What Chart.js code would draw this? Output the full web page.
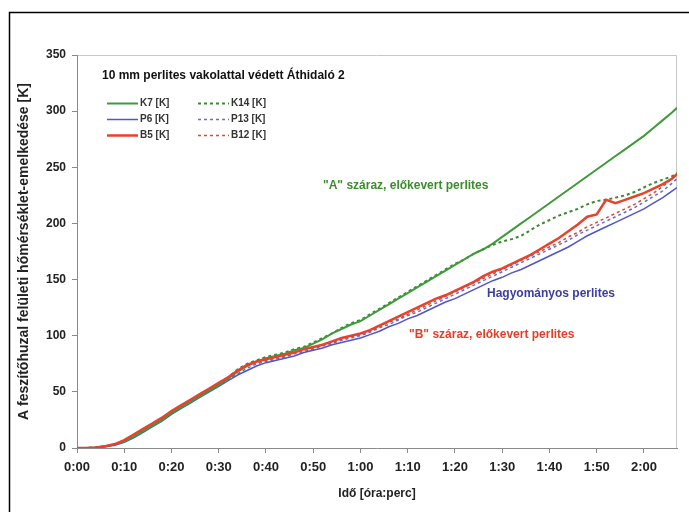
<!DOCTYPE html>
<html>
<head>
<meta charset="utf-8">
<script src="https://cdn.jsdelivr.net/npm/chart.js@4.4.1/dist/chart.umd.min.js"></script>
<style>
  html, body { margin: 0; padding: 0; background: #fff; }
  #wrap { width: 689px; height: 512px; position: relative; }
</style>
</head>
<body>
<div id="wrap"><canvas id="chart"></canvas></div>
<script>
// time in minutes from the start of the test
const times = [0,2,4,6,8,10,12,14,16,18,20,22,24,26,28,30,32,34,36,38,40,42,44,46,48,50,52,54,56,58,60,62,64,66,68,70,72,74,76,78,80,82,84,86,88,90,92,94,96,98,100,102,104,106,108,110,112,114,116,118,120,122,124,126,127];

const k7  = [0,0,0.5,1.5,3,6,10,15,20,25,31,36,41,46,51,56,62,68,73,77,80,82,84,87,89,93,97,102,106,110,113,118,123,128,133,138,143,148,153,158,163,168,173,177,182,188,194,200,206,212,218,224,230,236,242,248,254,260,266,272,278,285,292,299,303];
const k14 = [0,0,0.5,1.5,3,6,10,15,20,26,31,36,41,47,52,57,63,70,75,78,81,83,85,88,90,94,98,102,107,111,114,119,124,129,134,139,144,149,154,159,164,168,173,177,181,184,186,189,194,199,203,207,210,213,217,220,221,223,225,228,232,236,239,242,245];
const p6  = [0,0,0.3,1,2.5,5,9,14,19,24,30,35,40,45,50,55,60,65,69,73,76,78,80,82,85,87,89,92,94,96,98,101,104,108,111,115,118,122,126,130,133,137,141,145,149,152,156,159,163,167,171,175,179,184,189,193,197,201,205,209,213,218,223,229,232];
const p13 = [0,0,0.4,1.2,3,6,10,15,20,25,31,36,41,46,51,56,61,66,71,75,77,79,81,84,86,88,91,93,96,98,100,103,107,110,114,118,121,125,129,133,137,141,145,149,153,157,161,165,169,173,177,181,185,190,194,198,202,206,210,214,219,224,229,236,240];
const b5  = [0,0,0.5,1.5,3.5,7,12,17,22,27,33,38,43,48,53,58,63,69,74,77,79,81,83,85,88,90,92,95,98,100,102,105,109,113,117,121,125,129,133,136,140,144,148,153,157,160,164,168,172,177,182,187,193,199,206,208,221,218,221,224,227,231,235,240,244];
const b12 = [0,0,0.5,1.5,3,6.5,11,16,21,26,32,37,42,47,52,57,62,68,73,76,78,80,82,85,87,89,92,94,97,99,101,104,108,112,115,119,123,127,131,135,139,143,147,151,155,159,163,167,171,175,179,183,188,192,197,201,205,209,213,217,222,227,233,240,243];

const xTickLabels = ['0:00','0:10','0:20','0:30','0:40','0:50','1:00','1:10','1:20','1:30','1:40','1:50','2:00'];
const yTickValues = [0,50,100,150,200,250,300,350];

const pts = arr => arr.map((v, i) => ({x: times[i], y: v}));

const GREEN = '#3f9a3a', BLUE = '#5055c8', RED = '#e8412c';

const FONT = '"Liberation Sans", Arial, sans-serif';

// legend and frame drawn by hand, chart-like Excel look
const decor = {
  id: 'decor',
  beforeDraw(chart) {
    const c = chart.ctx, a = chart.chartArea;
    c.save();
    c.strokeStyle = '#c8c8c8';
    c.lineWidth = 1;
    c.beginPath();
    c.moveTo(a.left, a.top + 0.5);
    c.lineTo(a.right - 0.5, a.top + 0.5);
    c.lineTo(a.right - 0.5, a.bottom);
    c.stroke();
    c.restore();
  },
  afterDraw(chart) {
    const c = chart.ctx;
    c.save();
    c.strokeStyle = '#000';
    c.lineWidth = 1.5;
    c.beginPath();
    c.moveTo(9.5, 512);
    c.lineTo(9.5, 12.5);
    c.lineTo(689, 12.5);
    c.stroke();

    c.fillStyle = '#111';
    c.font = 'bold 12px ' + FONT;
    c.textBaseline = 'middle';
    c.fillText('10 mm perlites vakolattal védett Áthidaló 2', 102, 76);

    const ds = chart.data.datasets;
    const cols = [[0, 2, 4], [1, 3, 5]];
    const colX = [107, 198];
    const rowY = [103, 119, 135];
    c.font = 'bold 10px ' + FONT;
    cols.forEach((col, ci) => {
      col.forEach((di, ri) => {
        const d = ds[di];
        const y = rowY[ri] + 0.5;
        c.strokeStyle = d.borderColor;
        c.lineWidth = d.borderWidth;
        c.setLineDash(d.borderDash || []);
        c.beginPath();
        c.moveTo(colX[ci], y);
        c.lineTo(colX[ci] + 31, y);
        c.stroke();
        c.setLineDash([]);
        c.fillStyle = '#333';
        c.fillText(d.label, colX[ci] + 33, y);
      });
    });

    c.font = 'bold 12px ' + FONT;
    c.fillStyle = '#3c8c2c';
    c.fillText('"A" száraz, előkevert perlites', 323, 186);
    c.fillStyle = '#3b3ea0';
    c.fillText('Hagyományos perlites', 487, 294);
    c.fillStyle = '#e0402a';
    c.fillText('"B" száraz, előkevert perlites', 409, 335);
    c.restore();
  }
};

new Chart(document.getElementById('chart'), {
  type: 'line',
  data: {
    datasets: [
      {label: 'K7 [K]',  data: pts(k7),  borderColor: GREEN, borderWidth: 2, order: 2},
      {label: 'K14 [K]', data: pts(k14), borderColor: '#3a8a30', borderWidth: 2, borderDash: [3, 3], order: 4},
      {label: 'P6 [K]',  data: pts(p6),  borderColor: BLUE, borderWidth: 1.5, order: 3},
      {label: 'P13 [K]', data: pts(p13), borderColor: '#6a6ad4', borderWidth: 1.5, borderDash: [3, 3], order: 6},
      {label: 'B5 [K]',  data: pts(b5),  borderColor: RED, borderWidth: 2.5, order: 1},
      {label: 'B12 [K]', data: pts(b12), borderColor: '#d84a36', borderWidth: 1.5, borderDash: [3, 3], order: 5}
    ]
  },
  options: {
    responsive: true,
    maintainAspectRatio: false,
    animation: false,
    layout: {padding: {left: 0, top: 55, right: 12, bottom: 0}},
    elements: {point: {radius: 0}, line: {tension: 0}},
    plugins: {legend: {display: false}, tooltip: {enabled: false}},
    scales: {
      x: {
        type: 'linear',
        min: 0,
        max: 127,
        afterFit: s => { s.height = 64; },
        afterBuildTicks: s => { s.ticks = xTickLabels.map((_, i) => ({value: i * 10})); },
        border: {display: true, color: '#8a8a8a', width: 1},
        grid: {drawOnChartArea: false, drawTicks: true, tickLength: 5, color: '#8a8a8a'},
        ticks: {
          padding: 7,
          maxRotation: 0,
          autoSkip: false,
          color: '#222',
          font: {family: FONT, size: 13, weight: 'bold'},
          callback: v => xTickLabels[v / 10]
        },
        title: {
          display: true,
          text: 'Idő [óra:perc]',
          color: '#222',
          font: {family: FONT, size: 12, weight: 'bold'},
          padding: {top: 0, bottom: 11}
        }
      },
      y: {
        min: 0,
        max: 350,
        afterFit: s => { s.width = 77; },
        afterBuildTicks: s => { s.ticks = yTickValues.map(v => ({value: v})); },
        border: {display: true, color: '#8a8a8a', width: 1},
        grid: {drawOnChartArea: false, drawTicks: true, tickLength: 5, color: '#8a8a8a'},
        ticks: {
          padding: 6,
          color: '#222',
          font: {family: FONT, size: 12, weight: 'bold'}
        },
        title: {
          display: true,
          text: 'A feszítőhuzal felületi hőmérséklet-emelkedése [K]',
          color: '#222',
          font: {family: FONT, size: 14, weight: 'bold'},
          padding: {top: 16, bottom: 0}
        }
      }
    }
  },
  plugins: [decor]
});
</script>
</body>
</html>
